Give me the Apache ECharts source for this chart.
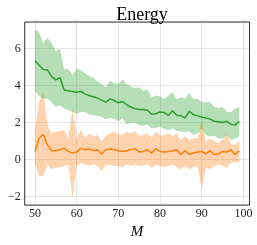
<!DOCTYPE html>
<html><head><meta charset="utf-8">
<script src="https://cdn.jsdelivr.net/npm/echarts@6/dist/echarts.min.js"></script>
<style>html,body{margin:0;padding:0;background:#fff}#c{width:257px;height:245px}</style>
</head><body><div id="c"></div>
<script>
const M = [50,51,52,53,54,55,56,57,58,59,60,61,62,63,64,65,66,67,68,69,70,71,72,73,74,75,76,77,78,79,80,81,82,83,84,85,86,87,88,89,90,91,92,93,94,95,96,97,98,99];

const greenMean = [5.35,5.1,4.86,4.84,4.49,4.3,4.43,3.76,3.72,3.67,3.63,3.69,3.55,3.46,3.39,3.32,3.21,3.1,3.28,3.19,3.07,3.14,2.96,2.84,2.75,2.71,2.7,2.66,2.45,2.48,2.57,2.54,2.39,2.64,2.39,2.36,2.25,2.61,2.43,2.36,2.3,2.25,2.18,2.07,2.04,2.0,2.07,1.9,1.86,2.07];
const greenUpper = [7.0,6.9,6.3,6.56,6.3,5.85,5.98,4.88,4.91,4.56,4.91,4.84,4.66,4.52,4.43,4.2,4.08,3.9,4.26,4.13,4.08,4.34,4.08,3.95,3.85,3.9,3.72,3.78,3.37,3.46,3.42,3.28,3.46,3.63,3.28,3.37,3.28,3.6,3.28,3.28,3.1,3.1,3.1,2.84,2.78,2.84,2.57,2.57,2.75,2.84];
const greenLower = [3.72,3.42,3.28,3.28,3.1,2.84,2.93,2.75,2.66,2.57,2.48,2.57,2.57,2.43,2.39,2.36,2.3,2.18,2.25,2.22,2.07,2.22,1.9,2.0,2.0,1.86,1.83,1.86,1.68,1.72,1.77,1.65,1.6,1.68,1.54,1.51,1.47,1.54,1.33,1.42,1.68,1.33,1.24,1.29,1.15,1.12,1.33,1.06,1.15,1.24];

const orangeMean = [0.44,1.15,1.37,0.8,0.48,0.48,0.53,0.62,0.44,0.35,0.41,0.62,0.53,0.59,0.48,0.53,0.3,0.53,0.57,0.53,0.48,0.44,0.48,0.53,0.59,0.41,0.44,0.53,0.35,0.59,0.44,0.41,0.44,0.48,0.53,0.27,0.48,0.27,0.35,0.41,0.44,0.3,0.48,0.27,0.3,0.44,0.41,0.53,0.27,0.48];
const orangeUpper = [1.68,3.1,3.67,1.86,1.42,1.51,1.54,1.6,1.15,2.75,1.15,1.6,1.15,1.42,1.24,1.33,0.98,1.29,1.42,1.51,1.37,1.33,1.51,1.42,1.54,1.29,1.33,1.42,1.15,1.54,1.29,1.33,1.42,1.24,1.42,1.06,1.24,1.06,1.15,1.15,2.13,0.98,1.15,0.98,0.89,1.06,1.42,0.83,0.8,1.01];
const orangeLower = [-0.2,-0.89,-0.89,-0.27,-0.53,-0.44,-0.41,-0.35,-0.27,-2.04,-0.35,-0.18,-0.27,-0.35,-0.23,-0.35,-0.62,-0.27,-0.3,-0.35,-0.35,-0.41,-0.27,-0.35,-0.27,-0.35,-0.35,-0.27,-0.44,-0.3,-0.35,-0.41,-0.35,-0.27,-0.41,-0.53,-0.35,-0.53,-0.41,-0.35,-1.6,-0.41,-0.53,-0.35,-0.27,-0.35,-0.44,-0.18,-0.12,-0.18];

const GREEN = '#2ca02c', ORANGE = '#ff7f0e';
const FONT = 'Liberation Serif';
const pairs = (vals) => M.map((m, i) => [m, vals[i]]);

function band(name, up, lo, color, op) {
  return {
    name: name, type: 'custom', silent: true, z: 1,
    data: [[M[0], lo[0]]],
    encode: { x: 0, y: 1 },
    renderItem: function (params, api) {
      const pts = [];
      for (let i = 0; i < M.length; i++) pts.push(api.coord([M[i], up[i]]));
      for (let i = M.length - 1; i >= 0; i--) pts.push(api.coord([M[i], lo[i]]));
      return { type: 'polygon', shape: { points: pts },
        style: { fill: color, opacity: op, stroke: null } };
    }
  };
}

const chart = echarts.init(document.getElementById('c'), null, { renderer: 'canvas' });
chart.setOption({
  animation: false,
  backgroundColor: '#fff',
  title: { text: 'Energy', left: 137, textAlign: 'center', top: 1,
    textStyle: { fontFamily: FONT, fontSize: 18, fontWeight: 'normal', color: '#000' } },
  grid: { left: 24.7, right: 7.5, top: 22, bottom: 37.3, show: true, borderColor: '#333', borderWidth: 1, z: 5 },
  xAxis: {
    type: 'value', min: 47.55, max: 101.45, splitNumber: 5,
    name: 'M', nameLocation: 'middle', nameGap: 15,
    nameTextStyle: { fontFamily: FONT, fontSize: 15, fontStyle: 'italic', color: '#000' },
    axisLine: { show: false }, axisTick: { show: false },
    axisLabel: { showMinLabel: false, showMaxLabel: false, margin: 3,
      fontFamily: FONT, fontSize: 12, color: '#222' },
    splitLine: { show: true, lineStyle: { color: '#e6e6e6', width: 1 } }
  },
  yAxis: {
    type: 'value', min: -2.46, max: 7.43, splitNumber: 5,
    axisLine: { show: false }, axisTick: { show: false },
    axisLabel: { showMinLabel: false, showMaxLabel: false, margin: 4,
      fontFamily: FONT, fontSize: 12, color: '#222',
      formatter: v => String(v).replace('-', '\u2212') },
    splitLine: { show: true, lineStyle: { color: '#e6e6e6', width: 1 } }
  },
  series: [
    band('orangeBand', orangeUpper, orangeLower, ORANGE, 0.34),
    band('greenBand', greenUpper, greenLower, GREEN, 0.34),
    { name: 'orangeMean', type: 'line', data: pairs(orangeMean), showSymbol: false,
      lineStyle: { color: ORANGE, width: 1.5 }, z: 3 },
    { name: 'greenMean', type: 'line', data: pairs(greenMean), showSymbol: false,
      lineStyle: { color: GREEN, width: 1.5 }, z: 3 }
  ]
});
</script>
</body></html>
